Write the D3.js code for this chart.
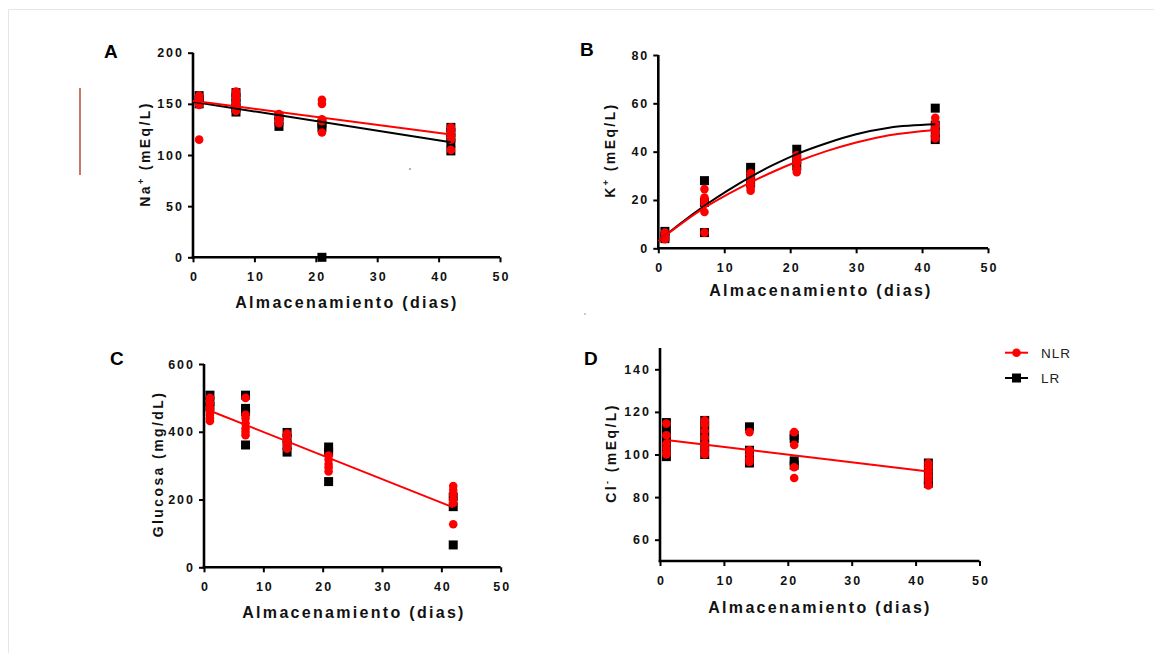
<!DOCTYPE html>
<html>
<head>
<meta charset="utf-8">
<script src="https://cdn.jsdelivr.net/npm/d3@7"></script>
<style>
  html, body { margin: 0; padding: 0; background: #fff; }
  svg { display: block; }
  text { font-family: "Liberation Sans", Arial, sans-serif; }
</style>
</head>
<body>
<svg id="chart" width="1154" height="653"></svg>
<script>
// ---------------- DATA ----------------
const xTicks = [0, 10, 20, 30, 40, 50];
const seriesNames = ["NLR", "LR"];

// Panel A : Na+ (mEq/L)
const naTicks = [0, 50, 100, 150, 200];
const naNLR = [[1,158],[1,155],[1,152],[1,149],[1,115],
  [7,162],[7,159],[7,156],[7,152],[7,149],[7,146],[7,143],
  [14,140],[14,137],[14,134],[14,131],
  [21,154],[21,150],[21,135],[21,133],[21,122],
  [42,127],[42,124],[42,121],[42,118],[42,115],[42,105]];
const naLR = [[1,158],[1,154],[1,150],
  [7,161],[7,156],[7,151],[7,146],[7,142],
  [14,138],[14,133],[14,128],
  [21,131],[21,127],[21,0],
  [42,127],[42,122],[42,117],[42,112],[42,104]];
const naFitNLR = [[0,153],[42,120]];
const naFitLR = [[0,152],[42,112.5]];

// Panel B : K+ (mEq/L)
const kTicks = [0, 20, 40, 60, 80];
const kNLR = [[1,6.5],[1,5.5],[1,4.5],[1,3.8],
  [7,24.5],[7,21],[7,20],[7,18.5],[7,15],[7,6.5],
  [14,31],[14,29.5],[14,28],[14,26.5],[14,25],[14,23.8],
  [21,38.5],[21,37],[21,35.5],[21,33],[21,31.5],
  [42,54],[42,51.5],[42,50],[42,48.5],[42,47],[42,45.5]];
const kLR = [[1,7],[1,5],[1,4],
  [7,28],[7,19],[7,6.5],
  [14,33.5],[14,30],[14,27],
  [21,41],[21,37],[21,34],
  [42,58],[42,51],[42,48],[42,45]];
const kFitNLR = [[0,3],[3.5,10.2],[7,16.8],[10.5,22.3],[14,27.3],[17.5,31.8],[21,35.8],[25.5,40.2],[30,43.8],[35,46.8],[42,49]];
const kFitLR = [[0,3],[3.5,10.6],[7,17.6],[10.5,23.9],[14,29.6],[17.5,34.6],[21,39],[25.5,43.5],[30,47.2],[35,49.9],[42,51.3]];

// Panel C : Glucosa (mg/dL)
const gluTicks = [0, 200, 400, 600];
const gluNLR = [[1,500],[1,485],[1,470],[1,460],[1,450],[1,440],[1,432],
  [7,500],[7,450],[7,440],[7,425],[7,410],[7,400],[7,390],
  [14,395],[14,385],[14,370],[14,360],[14,350],
  [21,330],[21,318],[21,305],[21,295],[21,283],
  [42,240],[42,228],[42,215],[42,200],[42,190],[42,127]];
const gluLR = [[1,508],[1,490],[1,474],
  [7,508],[7,469],[7,459],[7,361],
  [14,398],[14,380],[14,360],[14,340],
  [21,355],[21,340],[21,253],
  [42,208],[42,179],[42,66]];
const gluFit = [[1,462],[42,177]];

// Panel D : Cl- (mEq/L)
const clTicks = [60, 80, 100, 120, 140];
const clNLR = [[1,114.5],[1,109],[1,105],[1,103],[1,101],[1,100],
  [7,116],[7,114],[7,111],[7,108],[7,105],[7,103],[7,101],[7,100],
  [14,110.5],[14,102],[14,100],[14,98],[14,96.5],
  [21,110.5],[21,104.5],[21,94],[21,89],
  [42,96],[42,94],[42,92],[42,90],[42,88],[42,85.5]];
const clLR = [[1,115],[1,111],[1,107],[1,103],[1,99],
  [7,116],[7,112],[7,108],[7,104],[7,100],
  [14,113],[14,102],[14,98],[14,96],
  [21,109],[21,107.5],[21,97],[21,95],
  [42,96],[42,92],[42,88],[42,86.5]];
const clFit = [[1,106.8],[42,92]];

// ---------------- DRAW ----------------
const RED = "#ff0000", BLACK = "#000000";
const svg = d3.select("#chart");

// faint frame of the original figure
svg.append("path").attr("d", "M8.5,660 V9.5 H1160")
  .attr("fill", "none").attr("stroke", "#e6e6e6").attr("stroke-width", 1);
// stray marks in the original figure
svg.append("line").attr("x1", 80).attr("x2", 80).attr("y1", 88).attr("y2", 175)
  .attr("stroke", "#b02a20").attr("stroke-width", 1.3);
svg.append("circle").attr("cx", 410).attr("cy", 169).attr("r", 1).attr("fill", "#999");
svg.append("circle").attr("cx", 585).attr("cy", 314).attr("r", 1).attr("fill", "#bbb");

function panel(cfg) {
  const x = d3.scaleLinear().domain([0, 50]).range([cfg.x0, cfg.x1]);
  const y = d3.scaleLinear().domain(cfg.yDomain).range([cfg.yBot, cfg.yTop]);
  const g = svg.append("g");

  const xa = g.append("g").attr("transform", `translate(0,${cfg.yBot})`)
    .call(d3.axisBottom(x).tickValues(xTicks).tickSize(5).tickSizeOuter(0).tickPadding(10));
  const ya = g.append("g").attr("transform", `translate(${cfg.x0},0)`)
    .call(d3.axisLeft(y).tickValues(cfg.yTicks).tickSize(5).tickSizeOuter(0).tickPadding(4));
  [xa, ya].forEach(a => {
    a.select(".domain").attr("stroke-width", 2.6).attr("stroke", "#000");
    a.selectAll(".tick line").attr("stroke-width", 2).attr("stroke", "#000");
    a.selectAll(".tick text").attr("font-size", 12.5).attr("font-weight", "bold")
      .attr("fill", "#111").style("letter-spacing", "2px")
      .attr("font-family", "'Liberation Sans', Arial, sans-serif");
  });
  ya.select(".domain").attr("d", `M0,${cfg.yBot + 1.3}V${cfg.yTop}`);
  xa.select(".domain").attr("d", `M${cfg.x0 - 1.3},0H${cfg.x1}`);
  xa.selectAll(".tick text").attr("dx", "1px");

  // x title
  g.append("text").attr("x", cfg.xTitleX).attr("y", cfg.xTitleY)
    .attr("text-anchor", "middle").attr("font-size", 16).attr("font-weight", "bold")
    .style("letter-spacing", "2.3px").attr("fill", "#111")
    .text("Almacenamiento (dias)");

  // y title
  const yt = g.append("text")
    .attr("transform", `translate(${cfg.yTitleX},${cfg.yTitleY}) rotate(-90)`)
    .attr("text-anchor", "middle").attr("font-size", 14).attr("font-weight", "bold")
    .style("letter-spacing", "2.4px").attr("fill", "#111");
  yt.append("tspan").text(cfg.yTitle[0]);
  if (cfg.yTitle[1]) {
    yt.append("tspan").attr("font-size", 9).attr("dy", "-6").text(cfg.yTitle[1]);
    yt.append("tspan").attr("dy", "6").text(" " + cfg.yTitle[2]);
  } else {
    yt.append("tspan").text(" " + cfg.yTitle[2]);
  }

  // panel letter
  g.append("text").attr("x", cfg.letterX).attr("y", cfg.letterY)
    .attr("font-size", 19).attr("font-weight", "bold").attr("fill", "#000").text(cfg.letter);

  // points: LR squares, then NLR circles
  const s = 9;
  g.append("g").selectAll("rect").data(cfg.lr).join("rect")
    .attr("x", d => x(d[0]) - s / 2).attr("y", d => y(d[1]) - s / 2)
    .attr("width", s).attr("height", s).attr("fill", BLACK);
  g.append("g").selectAll("circle").data(cfg.nlr).join("circle")
    .attr("cx", d => x(d[0])).attr("cy", d => y(d[1])).attr("r", 4.3).attr("fill", RED);

  // fit lines
  const line = d3.line().x(d => x(d[0])).y(d => y(d[1])).curve(cfg.curve || d3.curveLinear);
  if (cfg.fitLR) g.append("path").attr("d", line(cfg.fitLR)).attr("fill", "none")
    .attr("stroke", BLACK).attr("stroke-width", 2);
  if (cfg.fitNLR) g.append("path").attr("d", line(cfg.fitNLR)).attr("fill", "none")
    .attr("stroke", RED).attr("stroke-width", 2);
}

panel({ x0: 193, x1: 500, yTop: 52.7, yBot: 257.3, yDomain: [0, 200], yTicks: naTicks,
  nlr: naNLR, lr: naLR, fitNLR: naFitNLR, fitLR: naFitLR,
  yTitle: ["Na", "+", "(mEq/L)"], yTitleX: 150, yTitleY: 154,
  xTitleX: 347, xTitleY: 308, letter: "A", letterX: 104, letterY: 58 });

panel({ x0: 658.3, x1: 988, yTop: 55, yBot: 248.3, yDomain: [0, 80], yTicks: kTicks,
  nlr: kNLR, lr: kLR, fitNLR: kFitNLR, fitLR: kFitLR, curve: d3.curveMonotoneX,
  yTitle: ["K", "+", "(mEq/L)"], yTitleX: 615, yTitleY: 150,
  xTitleX: 821, xTitleY: 296, letter: "B", letterX: 580, letterY: 56 });

panel({ x0: 204, x1: 500.7, yTop: 364, yBot: 567.3, yDomain: [0, 600], yTicks: gluTicks,
  nlr: gluNLR, lr: gluLR, fitNLR: gluFit,
  yTitle: ["Glucosa", null, "(mg/dL)"], yTitleX: 163, yTitleY: 464,
  xTitleX: 354, xTitleY: 618, letter: "C", letterX: 110, letterY: 365 });

panel({ x0: 660, x1: 979.5, yTop: 348, yBot: 561, yDomain: [50, 150], yTicks: clTicks,
  nlr: clNLR, lr: clLR, fitNLR: clFit,
  yTitle: ["Cl", "-", "(mEq/L)"], yTitleX: 616, yTitleY: 453,
  xTitleX: 820, xTitleY: 613, letter: "D", letterX: 584, letterY: 365 });

// legend
const legend = svg.append("g");
const legendRows = [
  { name: seriesNames[0], color: RED, shape: "circle", y: 352.7 },
  { name: seriesNames[1], color: BLACK, shape: "square", y: 378 }
];
legendRows.forEach(r => {
  legend.append("line").attr("x1", 1005).attr("x2", 1028).attr("y1", r.y).attr("y2", r.y)
    .attr("stroke", r.color).attr("stroke-width", 2);
  if (r.shape === "circle") legend.append("circle").attr("cx", 1016.5).attr("cy", r.y).attr("r", 4.3).attr("fill", r.color);
  else legend.append("rect").attr("x", 1012).attr("y", r.y - 4.5).attr("width", 9).attr("height", 9).attr("fill", r.color);
  legend.append("text").attr("x", 1041).attr("y", r.y + 4.8).attr("font-size", 13.5)
    .style("letter-spacing", "1px").attr("fill", "#222").text(r.name);
});
</script>
</body>
</html>
